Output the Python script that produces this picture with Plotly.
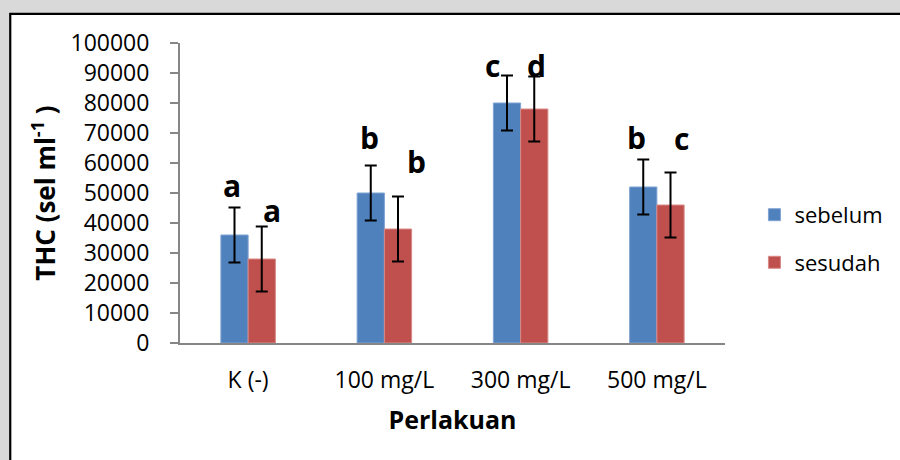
import plotly.graph_objects as go

categories = ["K (-)", "100 mg/L", "300 mg/L", "500 mg/L"]
sebelum = [36000, 50000, 80000, 52000]
sebelum_err = [9200, 9200, 9200, 9200]
sesudah = [28000, 38000, 78000, 46000]
sesudah_err = [10800, 10800, 10800, 10800]
labels_sebelum = ["a", "b", "c", "b"]
labels_sesudah = ["a", "b", "d", "c"]

FONT = "Open Sans"
W, H = 900, 460
ML, MR, MT, MB = 179.5, 168.3, 42.7, 116.7

fig = go.Figure()
fig.add_trace(go.Bar(
    name="sebelum", x=categories, y=sebelum,
    marker=dict(color="#4F81BD", line=dict(color="#7FA3D3", width=1)),
    error_y=dict(type="data", array=sebelum_err, visible=True,
                 color="black", thickness=2, width=6),
    legendgroup="g1",
))
fig.add_trace(go.Bar(
    name="sesudah", x=categories, y=sesudah,
    marker=dict(color="#C0504D", line=dict(color="#D88A88", width=1)),
    error_y=dict(type="data", array=sesudah_err, visible=True,
                 color="black", thickness=2, width=6),
    legendgroup="g2",
))

# significance letters, anchored to the top of each error bar
off_seb = [(-16, 12), (-15, 18), (-28, 0), (-20, 12)]
off_ses = [(24, 7), (32, 26), (16, 2), (25, 25)]
for i, c in enumerate(categories):
    for vals, errs, labs, offs in ((sebelum, sebelum_err, labels_sebelum, off_seb),
                                   (sesudah, sesudah_err, labels_sesudah, off_ses)):
        fig.add_annotation(
            x=c, y=vals[i] + errs[i], text=labs[i], showarrow=False,
            xshift=offs[i][0], yshift=offs[i][1] - 13, yanchor="bottom",
            font=dict(family=FONT, size=30, color="black", weight="bold"),
        )

pw = W - ML - MR
ph = H - MT - MB
# outer chart border (white area with black frame)
fig.add_shape(type="rect", xref="paper", yref="paper",
              x0=(7.5 - ML) / pw, x1=(W + 20 - ML) / pw,
              y0=-(MB + 20) / ph, y1=(H - 13.5 - MB) / ph,
              fillcolor="white", line=dict(color="black", width=2.2), layer="below")

fig.update_layout(
    width=W, height=H,
    margin=dict(l=ML, r=MR, t=MT, b=MB, pad=0),
    paper_bgcolor="#d9d9d9", plot_bgcolor="white",
    barmode="group", bargap=0.6, bargroupgap=0,
    font=dict(family=FONT, size=23, color="black"),
    showlegend=True,
    legend=dict(x=1.054, xanchor="left", y=0.347, yanchor="middle",
                bgcolor="rgba(0,0,0,0)", font=dict(size=22),
                tracegroupgap=16, itemwidth=30, traceorder="grouped"),
    xaxis=dict(showline=True, linecolor="#868686", linewidth=2,
               ticks="", ticklabelstandoff=15,
               tickfont=dict(size=23),
               title=dict(text="Perlakuan", font=dict(size=25, weight="bold"), standoff=18)),
    yaxis=dict(range=[0, 100000], dtick=10000, showline=True, linecolor="#868686",
               linewidth=2, ticks="outside", ticklen=8, tickcolor="#868686", tickwidth=1.5,
               showgrid=False, zeroline=False, ticklabelstandoff=16,
               tickfont=dict(size=23), tickformat="d",
               title=dict(text="THC (sel ml<sup>-1</sup> )", font=dict(size=26, weight="bold"),
                          standoff=7)),
)

fig.write_html("out.html", config={"displayModeBar": False},
               post_script="document.body.style.margin='0';document.body.style.overflow='hidden';")
